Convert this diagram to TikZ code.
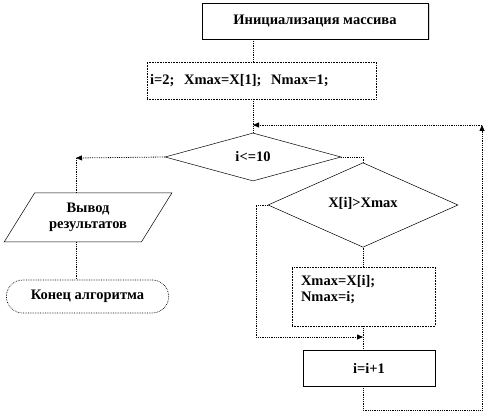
\documentclass[tikz,border=0pt]{standalone}
\usepackage{fontspec}
\setmainfont{Liberation Serif}
\usetikzlibrary{positioning, arrows.meta, shapes.geometric, shapes.misc, shadows}
\newcommand{\labfont}{\bfseries\fontsize{14.5}{16.5}\selectfont}

\begin{document}
\begin{tikzpicture}[x=1pt, y=-1pt,
          box/.style={draw, line width=0.6pt, inner sep=3pt, font=\labfont},
          dbox/.style={box, densely dotted},
          cond/.style={draw, diamond, inner sep=0pt, line width=0.5pt, font=\labfont},
          io/.style={draw, trapezium, trapezium left angle=56, trapezium right angle=124,
                     trapezium stretches=true, align=center, line width=0.5pt, font=\labfont},
          term/.style={draw, rounded rectangle, densely dotted, line width=0.7pt, font=\labfont},
          line/.style={densely dotted, line width=0.8pt},
          arr/.style={line, -{Triangle[length=6pt, width=5pt]}}
        ]
        \useasboundingbox (0,0) rectangle (489,411);

        \node[box, minimum width=226pt, minimum height=36pt,
              drop shadow={shadow xshift=1.5pt, shadow yshift=-1.5pt, fill=gray!60}, fill=white]
              (init) at (315,21) {Инициализация массива};
        \node[dbox, minimum width=229pt, minimum height=37pt, text width=223pt, align=left]
              (setup) at (261.5,80.5) {i=2;\ \ Xmax=X[1];\ \ Nmax=1;};
        \node[cond, minimum width=176pt, minimum height=48pt] (check) at (253,157) {i<=10};
        \node[cond, minimum width=190pt, minimum height=71pt] (cmp) at (363,205)
              {\raisebox{5pt}{X[i]>Xmax}};
        \node[io, minimum width=168pt, minimum height=49pt]
              (out) at (88,217.5) {Вывод\\результатов};
        \node[term, minimum width=169pt, minimum height=33pt]
              (fin) at (87.5,296.5) {Конец алгоритма};
        \node[dbox, minimum width=143pt, minimum height=59pt, inner xsep=9pt,
              text width=125pt, align=left]
              (upd) at (363.5,296.5) {Xmax=X[i];\\Nmax=i;\\\mbox{}};
        \node[box, minimum width=132pt, minimum height=36pt] (inc) at (369,368) {i=i+1};

        \coordinate (lturn) at (76,158);
        \coordinate (skip)  at (256,337);
        \coordinate (join)  at (363,337);
        \coordinate (bot)   at (482,410);
        \coordinate (loop)  at (482,125);

        \draw[line] (check |- init.south) -- (check |- setup.north);
        \draw[line] (check |- setup.south) -- (check.north);
        \draw[arr]  (check.west) -- (lturn);
        \draw[line] (lturn) -- (lturn |- out.north);
        \draw[line] (lturn |- out.south) -- (lturn |- fin.north);
        \draw[line] (check.east) -| (cmp.north);
        \draw[line] (cmp.south) -- (cmp.south |- upd.north);
        % no branch: around the assignment box
        \draw[arr]  (cmp.west) -| (skip) -- (join);
        \draw[line] (cmp.south |- upd.south) -- (cmp.south |- inc.north);
        % back to the loop condition
        \draw[arr]  (cmp.south |- inc.south) |- (bot) -- (loop);
        \draw[arr]  (loop) -- (check |- loop);
      \end{tikzpicture}
\end{document}
